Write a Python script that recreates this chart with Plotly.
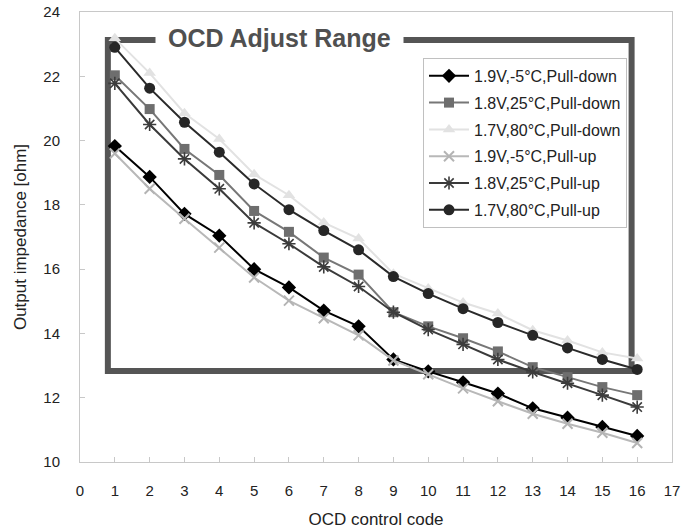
import plotly.graph_objects as go

codes = list(range(1, 17))

pd_19v = [19.83, 18.87, 17.72, 17.04, 16.00, 15.43, 14.71, 14.22, 13.19, 12.82, 12.48, 12.13, 11.67, 11.38, 11.09, 10.81]
pd_18v = [22.03, 20.98, 19.74, 18.93, 17.81, 17.16, 16.36, 15.83, 14.66, 14.22, 13.85, 13.44, 12.95, 12.64, 12.33, 12.08]
pd_17v = [23.18, 22.10, 20.85, 20.05, 18.95, 18.30, 17.45, 16.95, 15.86, 15.40, 14.96, 14.62, 14.10, 13.78, 13.41, 13.22]
pu_19v = [19.60, 18.50, 17.57, 16.67, 15.74, 15.02, 14.47, 13.94, 13.16, 12.73, 12.29, 11.89, 11.50, 11.19, 10.91, 10.59]
pu_18v = [21.78, 20.50, 19.43, 18.50, 17.44, 16.79, 16.07, 15.46, 14.66, 14.12, 13.66, 13.19, 12.80, 12.45, 12.08, 11.71]
pu_17v = [22.90, 21.63, 20.57, 19.64, 18.65, 17.85, 17.20, 16.60, 15.77, 15.24, 14.77, 14.34, 13.94, 13.55, 13.19, 12.88]

names = ["1.9V,-5°C,Pull-down", "1.8V,25°C,Pull-down", "1.7V,80°C,Pull-down",
         "1.9V,-5°C,Pull-up", "1.8V,25°C,Pull-up", "1.7V,80°C,Pull-up"]

x_ticks = list(range(0, 18))
y_ticks = list(range(10, 25, 2))

# adjust-range box (data coords)
range_x = [0.8, 15.84]
range_y = [12.83, 23.13]
title_x = 5.72

FONT = "Arial, Liberation Sans, sans-serif"

series = [
    (pd_19v, dict(symbol="diamond", size=11, color="#000000"), "#000000"),
    (pd_18v, dict(symbol="square", size=10, color="#6e6e6e"), "#777777"),
    (pd_17v, dict(symbol="triangle-up", size=11, color="#e2e2e2"), "#e2e2e2"),
    (pu_19v, dict(symbol="x-thin", size=10, color="#b4b4b4", line=dict(color="#b4b4b4", width=2)), "#b8b8b8"),
    (pu_18v, dict(symbol="asterisk", size=11, color="#3c3c3c", line=dict(color="#3c3c3c", width=1.6)), "#3a3a3a"),
    (pu_17v, dict(symbol="circle", size=11, color="#262626"), "#2a2a2a"),
]

fig = go.Figure()
for i, (vals, mk, lc) in enumerate(series):
    fig.add_trace(go.Scatter(
        x=codes, y=vals, name=names[i], mode="lines+markers",
        line=dict(color=lc, width=2), marker=mk, legendgroup=str(i),
    ))

fig.add_shape(type="rect", xref="x", yref="y",
              x0=range_x[0], x1=range_x[1], y0=range_y[0], y1=range_y[1],
              line=dict(color="#555555", width=6), layer="below")

fig.add_annotation(x=title_x, y=range_y[1], xref="x", yref="y",
                   text="&nbsp;<b>OCD Adjust Range</b>&nbsp;", showarrow=False,
                   font=dict(family=FONT, size=25, color="#505050"),
                   bgcolor="white", borderpad=5, yshift=2)

axis_common = dict(showline=True, linecolor="#c8c8c8", linewidth=1, mirror=True,
                   ticks="inside", ticklen=5, tickcolor="#c8c8c8", showgrid=False,
                   zeroline=False, ticklabeloverflow="allow",
                   tickfont=dict(family=FONT, size=15, color="#222222"))

fig.update_xaxes(range=[0, 17], tickvals=x_ticks, ticklabelstandoff=15,
                 title=dict(text="OCD control code", font=dict(family=FONT, size=17, color="#222222"), standoff=16),
                 **axis_common)
fig.update_yaxes(range=[10, 24], tickvals=y_ticks, ticklabelstandoff=16,
                 title=dict(text="Output impedance [ohm]", font=dict(family=FONT, size=17, color="#222222"), standoff=12),
                 **axis_common)

fig.update_layout(
    width=698, height=529,
    margin=dict(l=80, r=26, t=12, b=67, autoexpand=False),
    paper_bgcolor="white", plot_bgcolor="white",
    showlegend=True,
    legend=dict(x=0.924, xanchor="right", y=0.898, yanchor="top",
                bgcolor="white", bordercolor="#c0c0c0", borderwidth=1,
                font=dict(family=FONT, size=16, color="#222222"),
                itemwidth=40, tracegroupgap=3, traceorder="grouped"),
)

fig.write_html("out.html", config={"displayModeBar": False},
               post_script="document.body.style.margin='0';")
